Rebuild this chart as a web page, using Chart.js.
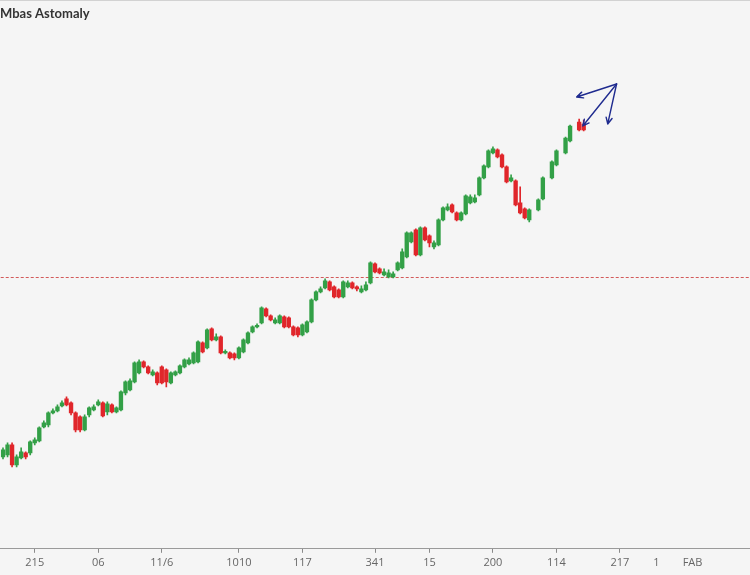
<!DOCTYPE html>
<html>
<head>
<meta charset="utf-8">
<script src="https://cdn.jsdelivr.net/npm/chart.js@4.4.1/dist/chart.umd.min.js"></script>
<style>
  html, body { margin: 0; padding: 0; background: #f5f5f5; }
  .wrap { position: relative; width: 750px; height: 575px; background: #f5f5f5; }
  .wrap::before { content: ''; position: absolute; left: 0; right: 0; top: 0; height: 1px; background: #d2d2d2; }
  canvas { display: block; }
</style>
</head>
<body>
<div class="wrap"><canvas id="chart" width="750" height="575"></canvas></div>
<script>
// data, null = no session in that slot
const TITLE = "Mbas Astomaly";
const SLOTS = 165; // sessions + empty room on the right

const opens = [146,147,152,142,145.5,148,148,153,154,161,162,168,169,171.5,175,173,168,166,159.5,167,
  169.5,172,173,168.5,172,168.5,169.5,178,179.5,183.5,188,193.5,191,187,188,191,189.5,183,187,188,
  191,192.5,193,193.5,203,200.5,210,204.5,206,198,198,197.5,195.5,198.5,203,208.5,211,213,220,216.5,
  213,213,216,215.5,211,210.5,207,208.5,213.5,224.5,228.5,230.5,233.5,231,229.5,226,231,233,231,228.5,
  229.5,233,242.5,240,237,236,236,239.5,240.5,246,253.5,259.5,247,260.5,256.5,251,252,264.5,269.5,272,
  268,264.5,267.5,273,273.5,277,285.5,291,298,299.5,297,291,284,284,273,270,264.5,null,269.5,275,null,285.5,
  292,null,298,304,null,313.5,312.5];
const closes = [149.5,152,142,146,148.5,146,153.5,154.5,160.5,163,168,169,171,173,172,168,159.5,159.5,166,170.5,
  171,173.5,166.5,172.5,168.5,170.5,178.5,183.5,184,193,193.5,191,188,188.5,183,183,183.5,188,188.5,191.5,
  194.5,194.5,198,203.5,198.5,209.5,204.5,206,198,198.5,195.5,195.5,200.5,204.5,208,211,211.5,220.5,216.5,214.5,
  214.5,216.5,211,211,207,207,212,213.5,224.5,228.5,230,234,229.5,226,226,233.5,233,230.5,230,230,
  232,243,238.5,238,238.5,238,237.5,243,248.5,258,258,247,260.5,254.5,253,253,264.5,270.5,271,268.5,
  264.5,268,276.5,276,275.5,285.5,291.5,299,300,296,291,283.5,285.5,272,268,265.5,269.5,null,274.5,285.5,null,293.5,
  299,null,305.5,311.5,null,309.5,309.5];
const highs = [150.5,153,153,147,150.5,148.5,154,155.5,161,164,168.5,170,172,174,176,173.5,168.5,166.5,167,171,
  172,174.5,173.5,173.5,172.5,171,179,184,185,193.5,194.5,194,191.5,189.5,188.5,191.5,190,188.5,189,192,
  195,195.5,198.5,204,203.5,210,210.5,207.5,206.5,199.5,198.5,198,201,205,208.5,211.5,212.5,221,220.5,217,
  215.5,217,216.5,216,211.5,211,212.5,214,225,229,231,235,234,231.5,230,234,234,233.5,231.5,231.5,
  233.5,243.5,243,240.5,240,239.5,238.5,243.5,250,258.5,258.5,260,261,261,257,254,265,271,272.5,272.5,
  268.5,268.5,277,277,277,286,292,299.5,301,300,297.5,291.5,287,284.5,281,270.5,270,null,275,286,null,294,
  299.5,null,306,312,null,315,314.5];
const lows = [145,146,141,141,145,145,147,152,153.5,160.5,161,167.5,168.5,171,171.5,167,158.5,158.5,159,166,
  169,171.5,166,167,168,168,169,177,179,183,187.5,190.5,187.5,186.5,182,182.5,181,182.5,186.5,187.5,
  190.5,192,192.5,193,198,200,204,204,197.5,197.5,195,194.5,195,198,202.5,208,210.5,212.5,216,214,
  212.5,212.5,210.5,210.5,206.5,206,206.5,208,213,224,228,230,229,225.5,225.5,225.5,230.5,230,229,228,
  229,232.5,238,237.5,236.5,235.5,235.5,239,240,245.5,253,246.5,246.5,254,251,250,251.5,264,269,268,
  264,264,267,272.5,273,276.5,285,290.5,297.5,295.5,290.5,283,283.5,271.5,267.5,265,263.5,null,269,274.5,null,285,
  291.5,null,297.5,303.5,null,309,309];

// x-axis labels and the slot each one sits on
const tickLabels = ["215","06","11/6","1010","117","341","15","200","114","217","1","FAB"];
const tickSlots = [7,21,35,52,66,82,94,108,122,136,144,152];
const tickMarked = [true,true,true,true,true,true,true,true,true,true,false,false];

// dashed reference level and the arrow notes (slot, price)
const refLevel = 236;
const arrowFrom = [135.25, 332.5];
const arrowTo = [[126.45, 326], [133.3, 312.5], [127.8, 311.5]];

// colours
const UP = '#33a047';
const DOWN = '#e0262b';
const ARROW = '#1f2b8f';

// build
const labels = Array(SLOTS).fill('');
const marked = Array(SLOTS).fill(false);
tickSlots.forEach((s, i) => { labels[s] = tickLabels[i]; marked[s] = tickMarked[i]; });
const colors = opens.map((o, i) => o === null || closes[i] >= o ? UP : DOWN);

const extras = {
  id: 'extras',
  beforeDatasetsDraw(chart) {
    const { ctx, chartArea: a, scales: { y } } = chart;
    const yy = Math.round(y.getPixelForValue(refLevel)) + 0.5;
    ctx.save();
    ctx.strokeStyle = '#d35a5a';
    ctx.lineWidth = 1;
    ctx.setLineDash([3, 2]);
    ctx.beginPath();
    ctx.moveTo(a.left, yy);
    ctx.lineTo(a.right, yy);
    ctx.stroke();
    ctx.restore();
  },
  afterDatasetsDraw(chart) {
    const { ctx, scales: { x, y } } = chart;
    const fx = x.getPixelForValue(arrowFrom[0]), fy = y.getPixelForValue(arrowFrom[1]);
    ctx.save();
    ctx.strokeStyle = ARROW;
    ctx.lineWidth = 1.4;
    ctx.lineCap = 'round';
    arrowTo.forEach(t => {
      const tx = x.getPixelForValue(t[0]), ty = y.getPixelForValue(t[1]);
      const ang = Math.atan2(ty - fy, tx - fx);
      ctx.beginPath();
      ctx.moveTo(fx, fy);
      ctx.lineTo(tx, ty);
      [0.45, -0.45].forEach(d => {
        ctx.moveTo(tx, ty);
        ctx.lineTo(tx - 7 * Math.cos(ang + d), ty - 7 * Math.sin(ang + d));
      });
      ctx.stroke();
    });
    ctx.restore();
  }
};

new Chart(document.getElementById('chart'), {
  type: 'bar',
  data: {
    labels,
    datasets: [
      {
        label: 'wick',
        data: lows.map((l, i) => l === null ? null : [l, highs[i]]),
        backgroundColor: colors,
        barThickness: 1,
        grouped: false
      },
      {
        label: 'body',
        data: opens.map((o, i) => o === null ? null : [o, closes[i]]),
        backgroundColor: colors,
        barThickness: 3.7,
        minBarLength: 1.5,
        grouped: false
      }
    ]
  },
  options: {
    responsive: false,
    animation: false,
    layout: { padding: { left: 0, right: 0, top: 0, bottom: 3 } },
    plugins: {
      legend: { display: false },
      tooltip: { enabled: false },
      title: {
        display: true,
        text: TITLE,
        align: 'start',
        color: '#333',
        font: { family: 'Lato', size: 13, weight: 'bold', lineHeight: 1.2 },
        padding: { top: 6, bottom: 4 }
      }
    },
    scales: {
      x: {
        offset: true,
        grid: {
          display: true,
          drawOnChartArea: false,
          drawTicks: true,
          offset: false,
          tickLength: 4,
          tickColor: c => marked[c.index] ? '#8a8a8a' : 'rgba(0,0,0,0)'
        },
        border: { display: true, color: '#9a9a9a', width: 1 },
        ticks: {
          autoSkip: false,
          maxRotation: 0,
          padding: 3,
          color: '#666',
          font: { family: 'Open Sans', size: 11 }
        }
      },
      y: {
        display: false,
        min: 100,
        max: 361.7
      }
    }
  },
  plugins: [extras]
});
</script>
</body>
</html>
